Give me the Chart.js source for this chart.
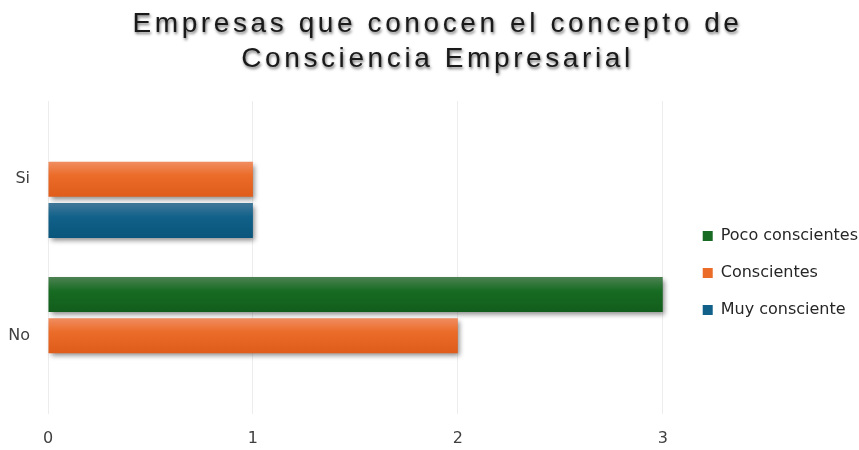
<!DOCTYPE html>
<html>
<head>
<meta charset="utf-8">
<script src="https://cdn.jsdelivr.net/npm/chart.js@4.4.0/dist/chart.umd.min.js"></script>
<style>
html,body{margin:0;padding:0;background:#fff}
#contenedor{width:859px;height:450px}
</style>
</head>
<body>
<div id="contenedor"><canvas id="grafEmpresas"></canvas></div>
<script>
const categorias = ['Si', 'No']
const pocoConscientes = [0, 3]
const conscientes = [1, 2]
const muyConsciente = [1, 0]
const ticksX = [0, 1, 2, 3]
const tituloLineas = ['Empresas que conocen el concepto de', 'Consciencia Empresarial']

// tonos: claro arriba, base, oscuro abajo
const tonos = {
    verde: ['#4d8253', '#176b22', '#125d1c'],
    naranja: ['#f08d60', '#eb6b28', '#df5c1a'],
    azul: ['#43799a', '#11618a', '#0a557b']
}

const fuente = "'DejaVu Sans', sans-serif"

const barrasDegradado = {
    id: 'barrasDegradado',
    beforeDatasetsDraw(chart) {
        let ctx = chart.ctx
        chart.data.datasets.forEach((ds, i) => {
            let meta = chart.getDatasetMeta(i)
            meta.data.forEach(barra => {
                let arriba = barra.y - barra.height / 2
                let g = ctx.createLinearGradient(0, arriba, 0, arriba + barra.height)
                g.addColorStop(0, ds.tonos[0])
                g.addColorStop(0.4, ds.tonos[1])
                g.addColorStop(1, ds.tonos[2])
                barra.options.backgroundColor = g
            })
        })
        ctx.save()
        ctx.shadowColor = 'rgba(0,0,0,0.45)'
        ctx.shadowBlur = 5
        ctx.shadowOffsetX = 2
        ctx.shadowOffsetY = 3
    },
    afterDatasetsDraw(chart) {
        chart.ctx.restore()
    }
}

const tituloSombra = {
    id: 'tituloSombra',
    beforeDraw(chart) {
        let t = chart.titleBlock
        if (t && !t._conSombra) {
            let dibujar = t.draw.bind(t)
            t.draw = function () {
                let ctx = chart.ctx
                ctx.save()
                ctx.translate(13, 0)
                ctx.shadowColor = 'rgba(0,0,0,0.55)'
                ctx.shadowBlur = 3
                ctx.shadowOffsetX = 1
                ctx.shadowOffsetY = 2
                ctx.letterSpacing = '3.6px'
                dibujar()
                ctx.restore()
            }
            t._conSombra = true
        }
    }
}

// separa la leyenda del area del grafico
const leyendaCorrida = {
    id: 'leyendaCorrida',
    afterLayout(chart, args, opts) {
        let l = chart.legend
        l.left += opts.dx
        l.right += opts.dx
    }
}

let grafEmpresas = new Chart(document.getElementById('grafEmpresas'), {
    type: 'bar',
    plugins: [barrasDegradado, tituloSombra, leyendaCorrida],
    data: {
        labels: categorias,
        datasets: [
            {
                label: 'Poco conscientes',
                data: pocoConscientes,
                tonos: tonos.verde,
                backgroundColor: () => tonos.verde[1],
            },
            {
                label: 'Conscientes',
                data: conscientes,
                tonos: tonos.naranja,
                backgroundColor: () => tonos.naranja[1],
            },
            {
                label: 'Muy consciente',
                data: muyConsciente,
                tonos: tonos.azul,
                backgroundColor: () => tonos.azul[1],
            }
        ]
    },
    options: {
        indexAxis: 'y',
        responsive: true,
        maintainAspectRatio: false,
        animation: false,
        devicePixelRatio: 1,
        datasets: {
            bar: {
                categoryPercentage: 0.79,
                barPercentage: 0.85,
                borderWidth: 0,
                clip: false
            }
        },
        layout: {
            padding: { left: 0, right: 10, top: 0, bottom: 0 }
        },
        scales: {
            x: {
                min: 0,
                max: 3,
                afterBuildTicks: s => { s.ticks = ticksX.map(v => ({ value: v })) },
                afterFit: s => { s.height = 36 },
                grid: { color: '#ededed', drawTicks: false },
                border: { display: false },
                ticks: {
                    color: '#404040',
                    padding: 15,
                    font: { family: fuente, size: 16 }
                }
            },
            y: {
                afterFit: s => { s.width = 48 },
                grid: { display: false, drawTicks: false },
                border: { display: false },
                ticks: {
                    color: '#404040',
                    padding: 18,
                    font: { family: fuente, size: 16 }
                }
            }
        },
        plugins: {
            title: {
                display: true,
                text: tituloLineas,
                color: '#1a1a1a',
                font: { family: "'Liberation Sans', Arial, sans-serif", size: 28, weight: 'normal', lineHeight: 1.25 },
                padding: { top: 7, bottom: 24 }
            },
            legend: {
                position: 'right',
                fullSize: false,
                title: {
                    display: true,
                    text: ' ',
                    font: { size: 10, lineHeight: 1 },
                    padding: { top: 21, bottom: 0 }
                },
                labels: {
                    color: '#262626',
                    boxWidth: 10,
                    boxHeight: 10,
                    padding: 21,
                    font: { family: fuente, size: 16 }
                }
            },
            leyendaCorrida: { dx: 19 },
            tooltip: { enabled: false }
        }
    }
})
</script>
</body>
</html>
